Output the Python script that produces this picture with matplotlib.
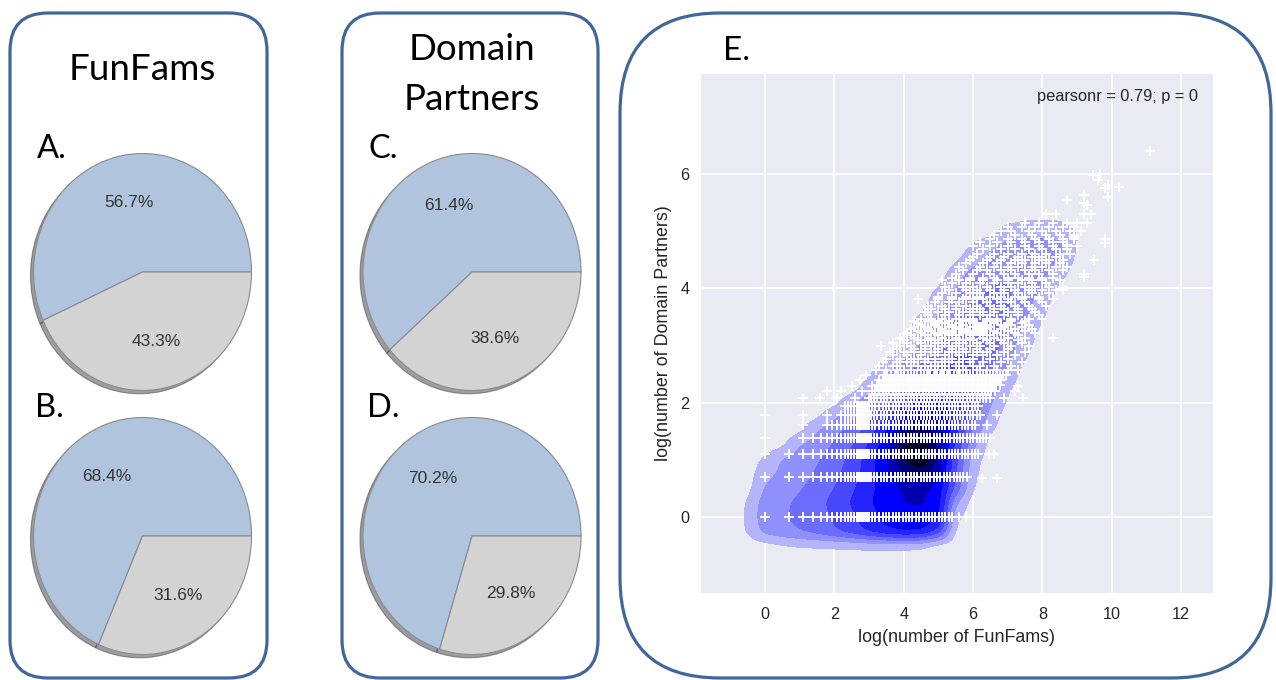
import numpy as np
import matplotlib
matplotlib.use("Agg")
import matplotlib.pyplot as plt
from matplotlib.patches import FancyBboxPatch

plt.rcParams['font.family'] = ['Liberation Sans', 'DejaVu Sans']

W, H = 1276, 680

# ---- pie data (A-D) ----
pie_names = ["A.", "B.", "C.", "D."]
pie_values = [[56.7, 43.3], [68.4, 31.6], [61.4, 38.6], [70.2, 29.8]]
pie_colors = ["#b0c4de", "#d3d3d3"]

# ---- scatter data (E), natural log of counts ----
# FunFam counts that occur along the well-populated rows (two interleaved sets)
ff_counts_a = [1, 2, 3, 4, 5, 6, 7, 8, 9, 10, 11, 12, 13, 14, 15, 16, 17, 18, 19, 20,
               22, 24, 27, 30, 33, 36, 40, 44, 48, 53, 58, 64, 70, 77, 85, 94, 103,
               113, 124, 136, 150, 165, 181, 199, 219, 241, 265, 291, 320, 352, 387,
               426, 468, 515, 566, 623, 685, 753, 828, 911, 1002, 1102]
ff_counts_b = [1, 2, 3, 4, 5, 6, 7, 8, 9, 10, 11, 12, 13, 14, 15, 16, 17, 18, 19, 20,
               21, 23, 25, 28, 31, 34, 38, 42, 46, 50, 55, 61, 67, 73, 81, 89, 98,
               108, 118, 130, 143, 157, 173, 190, 209, 230, 253, 278, 305, 336, 369,
               406, 447, 491, 540, 594, 654, 719, 790, 869, 956, 1052]
# rows of domain-partner counts, FunFam counts from lo to hi
row_dp = [1, 2, 3, 4, 5, 6, 7, 8, 9, 10, 11, 12]
row_ff_lo = [1, 1, 1, 3, 6, 9, 10, 20, 22, 24, 27, 30]
row_ff_hi = [235, 350, 500, 600, 450, 500, 480, 700, 800, 900, 1000, 1100]

cloud_dp = [13, 14, 15, 16, 17, 18, 19, 20, 21, 22, 23, 24, 25, 26, 27, 28, 29, 30,
            31, 32, 34, 36, 38, 40, 43, 45, 47, 50, 53, 56, 60, 63, 66, 70, 75, 80,
            85, 90, 95, 100, 108, 115, 122, 130, 140, 150, 160, 170, 200]
cloud_x = [
    [3.2, 3.5, 3.8, 4.0, 4.2, 4.5, 4.7, 4.9, 5.1, 5.3, 5.6, 5.8, 6.1, 6.4, 6.7, 7.0, 7.3],
    [3.3, 3.7, 3.9, 4.2, 4.4, 4.6, 4.8, 5.0, 5.2, 5.5, 5.7, 6.0, 6.2, 6.6, 7.1],
    [3.4, 3.8, 4.1, 4.3, 4.6, 4.9, 5.1, 5.3, 5.6, 5.9, 6.3, 6.8, 7.4],
    [3.5, 3.9, 4.2, 4.4, 4.7, 4.9, 5.2, 5.4, 5.7, 6.0, 6.5, 7.0],
    [3.7, 4.1, 4.5, 4.9, 5.2, 5.6, 6.0, 6.3, 6.7, 7.2],
    [3.6, 4.0, 4.3, 4.5, 4.8, 5.0, 5.3, 5.5, 5.8, 6.1, 6.4, 6.9, 7.5],
    [3.8, 4.3, 4.6, 5.0, 5.4, 5.7, 6.1, 6.5, 7.0],
    [3.35, 3.9, 4.2, 4.6, 4.8, 5.1, 5.3, 5.6, 5.9, 6.2, 6.6, 7.1, 7.6],
    [3.7, 4.1, 4.5, 4.9, 5.2, 5.5, 5.7, 6.1, 6.5, 6.9, 7.4],
    [4.0, 4.4, 4.7, 5.0, 5.3, 5.5, 5.8, 6.0, 6.4, 6.8, 7.3],
    [3.9, 4.3, 4.8, 5.1, 5.5, 5.9, 6.3, 6.6, 7.0, 7.5],
    [4.2, 4.6, 5.0, 5.3, 5.6, 5.9, 6.2, 6.5, 6.9, 7.3],
    [4.1, 4.5, 4.9, 5.2, 5.4, 5.7, 6.0, 6.3, 6.7, 7.2, 7.8],
    [4.4, 4.8, 5.1, 5.4, 5.7, 6.0, 6.3, 6.6, 7.0, 7.5],
    [4.2, 4.7, 5.1, 5.5, 5.8, 6.1, 6.4, 6.8, 7.2, 7.7],
    [4.3, 4.6, 5.0, 5.3, 5.6, 5.9, 6.2, 6.5, 6.9, 7.4],
    [4.5, 4.9, 5.4, 5.7, 6.1, 6.4, 6.8, 7.1, 7.6],
    [4.4, 4.9, 5.2, 5.6, 6.0, 6.3, 6.6, 7.0, 7.4],
    [4.3, 4.7, 5.0, 5.3, 5.7, 6.0, 6.4, 6.7, 7.1, 7.5],
    [4.5, 4.8, 5.1, 5.5, 5.8, 6.0, 6.4, 6.7, 7.1, 7.6, 8.0],
    [4.7, 5.2, 5.6, 5.9, 6.2, 6.5, 6.9, 7.3, 7.9],
    [4.6, 5.0, 5.3, 5.7, 6.0, 6.3, 6.6, 7.0, 7.3, 7.8],
    [4.8, 5.2, 5.5, 5.9, 6.2, 6.6, 6.9, 7.3, 7.7],
    [4.7, 5.1, 5.5, 5.8, 6.1, 6.5, 6.8, 7.2, 7.6, 8.1],
    [4.9, 5.3, 5.6, 6.0, 6.4, 6.8, 7.1, 7.5, 8.0],
    [4.4, 5.0, 5.4, 5.7, 6.0, 6.3, 6.7, 7.0, 7.4, 7.9, 8.3],
    [5.0, 5.4, 5.8, 6.1, 6.5, 6.8, 7.2, 7.5, 7.9],
    [5.1, 5.5, 5.9, 6.2, 6.6, 6.9, 7.3, 7.7, 8.2],
    [5.3, 5.8, 6.1, 6.5, 6.9, 7.2, 7.6, 8.0, 8.4],
    [5.2, 5.7, 6.0, 6.4, 6.8, 7.1, 7.5, 7.8, 8.2, 8.6],
    [5.4, 5.8, 6.2, 6.6, 7.0, 7.3, 7.7, 8.1],
    [5.1, 5.6, 5.9, 6.3, 6.7, 7.0, 7.4, 7.7, 8.0, 8.5],
    [5.4, 5.9, 6.3, 6.6, 7.0, 7.3, 7.6, 8.0, 8.3],
    [5.5, 6.0, 6.5, 6.9, 7.2, 7.6, 7.9, 8.3, 9.2],
    [5.7, 6.1, 6.4, 6.8, 7.1, 7.5, 7.8, 8.2, 8.6],
    [5.6, 6.2, 6.6, 7.0, 7.3, 7.7, 8.0, 8.4, 8.7],
    [5.8, 6.3, 6.7, 7.1, 7.4, 7.8, 8.1, 8.5],
    [5.9, 6.4, 6.8, 7.2, 7.5, 7.9, 8.2, 8.6, 9.5],
    [6.0, 6.5, 6.9, 7.3, 7.7, 8.0, 8.4],
    [6.1, 6.6, 7.0, 7.4, 7.8, 8.1, 8.5, 8.8],
    [6.3, 6.8, 7.2, 7.6, 8.0, 8.4, 8.7],
    [6.0, 6.5, 7.0, 7.5, 7.9, 8.3, 8.7, 9.0],
    [6.2, 6.7, 7.1, 7.5, 7.9, 8.3, 8.6],
    [6.5, 7.0, 7.4, 7.8, 8.2, 8.6, 8.9, 9.8],
    [6.6, 7.2, 7.7, 8.1, 8.5, 8.9],
    [6.8, 7.1, 7.6, 8.0, 8.4, 8.8, 9.1],
    [7.0, 7.4, 7.8, 8.2, 8.6, 8.9],
    [7.5, 7.9, 8.3, 8.7, 9.0, 9.3],
    [8.1, 8.4, 9.2, 9.4],
]

# isolated points (log FunFams, log Domain Partners)
extra_x = [5.6, 5.8, 6.0, 6.26, 6.69, 6.45, 6.6, 6.5, 0.0, 1.1, 0.0, 1.1, 1.8,
           1.1, 1.6, 2.07, 2.2, 1.8, 6.4, 6.7, 6.9, 7.2, 7.3, 7.45,
           2.6, 2.8, 2.5, 2.75, 2.9, 3.1,
           9.2, 9.45, 9.65, 9.8, 9.9, 10.2, 9.9, 9.2, 9.3, 8.7, 9.6, 11.1,
           9.4, 9.3, 9.8, 9.5, 9.2, 8.6, 8.3, 8.9, 8.7]
extra_y = [0.0, 0.0, 0.0, 0.69, 0.69, 1.1, 1.1, 1.39, 1.39, 1.61, 1.79, 1.79, 1.79,
           2.08, 2.08, 2.08, 2.2, 2.2, 1.61, 1.79, 2.08, 2.2, 2.3, 2.08,
           2.08, 2.2, 2.3, 2.4, 2.48, 2.3,
           5.5, 5.98, 6.0, 5.75, 5.8, 5.77, 5.6, 5.63, 5.45, 5.54, 5.9, 6.4,
           5.3, 5.14, 4.8, 4.5, 4.2, 3.97, 3.13, 4.9, 4.75]

pearson_text = "pearsonr = 0.79; p = 0"

# KDE density (contour level units)
kde_x = [-1.0, -0.5, 0.0, 0.5, 1.0, 1.5, 2.0, 2.5, 3.0, 3.5, 4.0,
         4.5, 5.0, 5.5, 6.0, 6.5, 7.0, 7.5, 8.0, 8.5, 9.0, 9.5]
kde_y = [5.5, 5.25, 5.0, 4.75, 4.5, 4.25, 4.0, 3.75, 3.5, 3.25, 3.0, 2.75, 2.5, 2.25,
         2.0, 1.75, 1.5, 1.25, 1.0, 0.75, 0.5, 0.25, 0.0, -0.25, -0.5, -0.75, -1.0]
kde_level = [
    [0, 0, 0, 0, 0, 0, 0, 0, 0, 0, 0, 0, 0, 0, 0, 0, 0, 0, 0, 0, 0, 0],
    [0, 0, 0, 0, 0, 0, 0, 0, 0, 0, 0, 0, 0, 0, 0, 0, 0, .3, .3, .3, 0, 0],
    [0, 0, 0, 0, 0, 0, 0, 0, 0, 0, 0, 0, 0, 0, 0, 0, 1, 1, 1, 1, .45, 0],
    [0, 0, 0, 0, 0, 0, 0, 0, 0, 0, 0, 0, 0, 0, .6, 1.2, 1.8, 2, 2, 1.8, .45, 0],
    [0, 0, 0, 0, 0, 0, 0, 0, 0, 0, 0, 0, 0, .35, 1, 1.8, 2.1, 2.1, 2, 1.5, .2, 0],
    [0, 0, 0, 0, 0, 0, 0, 0, 0, 0, 0, 0, 0, 1, 1.9, 2.2, 2.4, 2.3, 1.8, .8, 0, 0],
    [0, 0, 0, 0, 0, 0, 0, 0, 0, 0, 0, 0, .5, 1.5, 2, 2.6, 2.6, 2, 1.6, .2, 0, 0],
    [0, 0, 0, 0, 0, 0, 0, 0, 0, 0, 0, 0, 1.2, 2, 2.6, 2.8, 2.6, 2, .8, 0, 0, 0],
    [0, 0, 0, 0, 0, 0, 0, 0, 0, 0, 0, .6, 1.6, 2.5, 2.9, 2.9, 2.5, 1.6, .55, 0, 0, 0],
    [0, 0, 0, 0, 0, 0, 0, 0, 0, 0, .15, 1.2, 2, 2.8, 3.1, 3, 2.4, 1.2, .2, 0, 0, 0],
    [0, 0, 0, 0, 0, 0, 0, 0, 0, 0, .55, 1.6, 2.5, 3.2, 3.4, 3, 2, .8, 0, 0, 0, 0],
    [0, 0, 0, 0, 0, 0, 0, 0, 0, .45, 1.4, 2.2, 3, 3.6, 3.6, 2.8, 1.8, .45, 0, 0, 0, 0],
    [0, 0, 0, 0, 0, 0, 0, 0, .35, 1.5, 2.5, 3.2, 4, 4.2, 3.6, 2.6, 1.2, 0, 0, 0, 0, 0],
    [0, 0, 0, 0, 0, 0, 0, 0, 1, 2, 3, 4, 4.8, 4.6, 3.6, 2.2, .6, 0, 0, 0, 0, 0],
    [0, 0, 0, 0, 0, 0, .15, 1.2, 2.2, 3.2, 4.4, 5.3, 5.6, 5, 3.6, 1.6, .3, 0, 0, 0, 0, 0],
    [0, 0, 0, 0, 0, .3, 1.3, 2.2, 3.2, 4.4, 5.8, 6.8, 6.5, 5, 3, 1, 0, 0, 0, 0, 0, 0],
    [0, 0, 0, 0, .3, 1.5, 2.2, 3, 4, 5.5, 7.6, 8.2, 7, 4.8, 2.2, .55, 0, 0, 0, 0, 0, 0],
    [0, 0, 0, .3, 1.5, 2, 2.6, 3.4, 4.6, 6.2, 8.6, 9.4, 7.2, 4.2, 1.8, 0, 0, 0, 0, 0, 0, 0],
    [0, 0, .65, 1.6, 2, 2.4, 3, 3.8, 5, 6.4, 8.4, 9.6, 7, 3.8, .9, 0, 0, 0, 0, 0, 0, 0],
    [0, 0, 1.2, 1.7, 2.1, 2.6, 3.2, 4, 5, 6.2, 7.4, 7.8, 6.8, 3.5, .7, 0, 0, 0, 0, 0, 0, 0],
    [0, .15, 1.6, 2, 2.4, 2.9, 3.5, 4.3, 5.2, 6, 6.6, 6.8, 6, 3.2, .45, 0, 0, 0, 0, 0, 0, 0],
    [0, .55, 2, 2.3, 2.7, 3.2, 3.8, 4.6, 5.4, 6, 6.5, 6.6, 6, 1.6, 0, 0, 0, 0, 0, 0, 0, 0],
    [0, .6, 2.2, 2.4, 2.7, 3.1, 3.6, 4.3, 5, 5.8, 6.2, 6.2, 5.7, .7, 0, 0, 0, 0, 0, 0, 0, 0],
    [0, .55, 1.8, 2.2, 2.5, 2.9, 3.4, 4, 4.7, 5.3, 5.6, 5.5, 4.2, .2, 0, 0, 0, 0, 0, 0, 0, 0],
    [0, 0, .1, .35, .5, .55, .6, .65, .7, .7, .7, .6, 0, 0, 0, 0, 0, 0, 0, 0, 0, 0],
    [0, 0, 0, 0, 0, 0, 0, 0, 0, 0, 0, 0, 0, 0, 0, 0, 0, 0, 0, 0, 0, 0],
    [0, 0, 0, 0, 0, 0, 0, 0, 0, 0, 0, 0, 0, 0, 0, 0, 0, 0, 0, 0, 0, 0],
]
kde_colors = ['#b4b4fc', '#9090fc', '#6c6cfd', '#4848fe', '#2424ff',
              '#0000ff', '#0000b0', '#000068', '#000022']


fig = plt.figure(figsize=(W / 100, H / 100), dpi=100)


def px_axes(left, top, width, height):
    return fig.add_axes([left / W, 1 - (top + height) / H, width / W, height / H])


# background layer in pixel units: rounded panels and titles
bg = fig.add_axes([0, 0, 1, 1])
bg.set_xlim(0, W)
bg.set_ylim(H, 0)
bg.axis('off')
for x0, x1, r in [(10, 267, 38), (342, 598, 38), (620, 1271, 100)]:
    bg.add_patch(FancyBboxPatch((x0, 13), x1 - x0, 665,
                                boxstyle=f"round,pad=0,rounding_size={r}",
                                fc='none', ec='#41679a', lw=2.3))

title_font = dict(family='Lato', color='black')
bg.text(142, 80, "FunFams", ha='center', va='baseline', fontsize=26.5, **title_font)
bg.text(472, 60, "Domain", ha='center', va='baseline', fontsize=26.5, **title_font)
bg.text(472, 110, "Partners", ha='center', va='baseline', fontsize=26.5, **title_font)
for name, (x, y) in zip(pie_names, [(37, 158), (35, 417), (369, 158), (367, 417)]):
    bg.text(x, y, name, ha='left', va='baseline', fontsize=23.5, **title_font)
bg.text(723, 60, "E.", ha='left', va='baseline', fontsize=24, **title_font)

# pies
rx, ry, pad = 109, 118.5, 1.08
for (cx, cy), vals in zip([(142.5, 272), (142.5, 536), (472, 272), (472, 536)], pie_values):
    ax = px_axes(cx - rx * pad, cy - ry * pad, 2 * rx * pad, 2 * ry * pad)
    ax.pie(vals, colors=pie_colors, autopct='%1.1f%%', shadow=True,
           wedgeprops=dict(edgecolor='#8a8a8a', linewidth=0.8),
           textprops=dict(color='#333333', fontsize=12.5))
    ax.set_aspect('auto')
    ax.set_xlim(-pad, pad)
    ax.set_ylim(-pad, pad)

# scatter + kde panel
ax = px_axes(700.5, 74, 512.5, 519)
ax.set_facecolor('#eaeaf2')
for s in ax.spines.values():
    s.set_visible(False)
ax.grid(True, color='white', lw=1.3)
ax.set_axisbelow(True)

# density surface from the level grid
gx = np.array(kde_x)
gy = np.array(kde_y)[::-1]
Z = np.array(kde_level, dtype=float)[::-1]
xf = np.linspace(gx[0], gx[-1], 526)
yf = np.linspace(gy[0], gy[-1], 326)
Zx = np.array([np.interp(xf, gx, row) for row in Z])
Zf = np.array([np.interp(yf, gy, col) for col in Zx.T]).T


def smooth(a, sigma, axis):
    n = int(3 * sigma) + 1
    k = np.exp(-0.5 * (np.arange(-n, n + 1) / sigma) ** 2)
    k /= k.sum()
    return np.apply_along_axis(lambda v: np.convolve(v, k, mode='same'), axis, a)


Zf = smooth(smooth(Zf, 5, 1), 3, 0)
ax.contourf(xf, yf, Zf, levels=[0.5, 1.5, 2.5, 3.5, 4.5, 5.5, 6.5, 7.5, 8.5, 50],
            colors=kde_colors, zorder=1)

sx, sy = [], []
for i, (j, lo, hi) in enumerate(zip(row_dp, row_ff_lo, row_ff_hi)):
    counts = np.array(ff_counts_a if i % 2 == 0 else ff_counts_b)
    n = counts[(counts >= lo) & (counts <= hi)]
    sx.append(np.log(n))
    sy.append(np.full(n.size, np.log(j)))
for j, xs in zip(cloud_dp, cloud_x):
    sx.append(np.array(xs))
    sy.append(np.full(len(xs), np.log(j)))
sx.append(np.array(extra_x))
sy.append(np.array(extra_y))
ax.plot(np.concatenate(sx), np.concatenate(sy), '+', color='white',
        ms=7.5, mew=1.4, linestyle='none', zorder=3)

ax.set_xlim(-1.86, 12.92)
ax.set_ylim(-1.33, 7.75)
ax.set_xticks([0, 2, 4, 6, 8, 10, 12])
ax.set_yticks([0, 2, 4, 6])
ax.tick_params(length=0, labelsize=11.7, labelcolor='#262626')
ax.tick_params(axis='x', pad=10)
ax.tick_params(axis='y', pad=8)
ax.set_xlabel("log(number of FunFams)", fontsize=12.9, color='#262626')
ax.set_ylabel("log(number of Domain Partners)", fontsize=12.9, color='#262626')
ax.xaxis.set_label_coords(0.5, -(638 - 593) / 519)
ax.xaxis.label.set_va('center')
ax.yaxis.set_label_coords((663 - 700.5) / 512.5, 1 - (333 - 74) / 519)
ax.yaxis.label.set_va('center')
ax.text((1198 - 700.5) / 512.5, 1 - (96 - 74) / 519, pearson_text,
        transform=ax.transAxes, ha='right', va='center', fontsize=11.8, color='#262626')

fig.savefig("out.png", dpi=100)
